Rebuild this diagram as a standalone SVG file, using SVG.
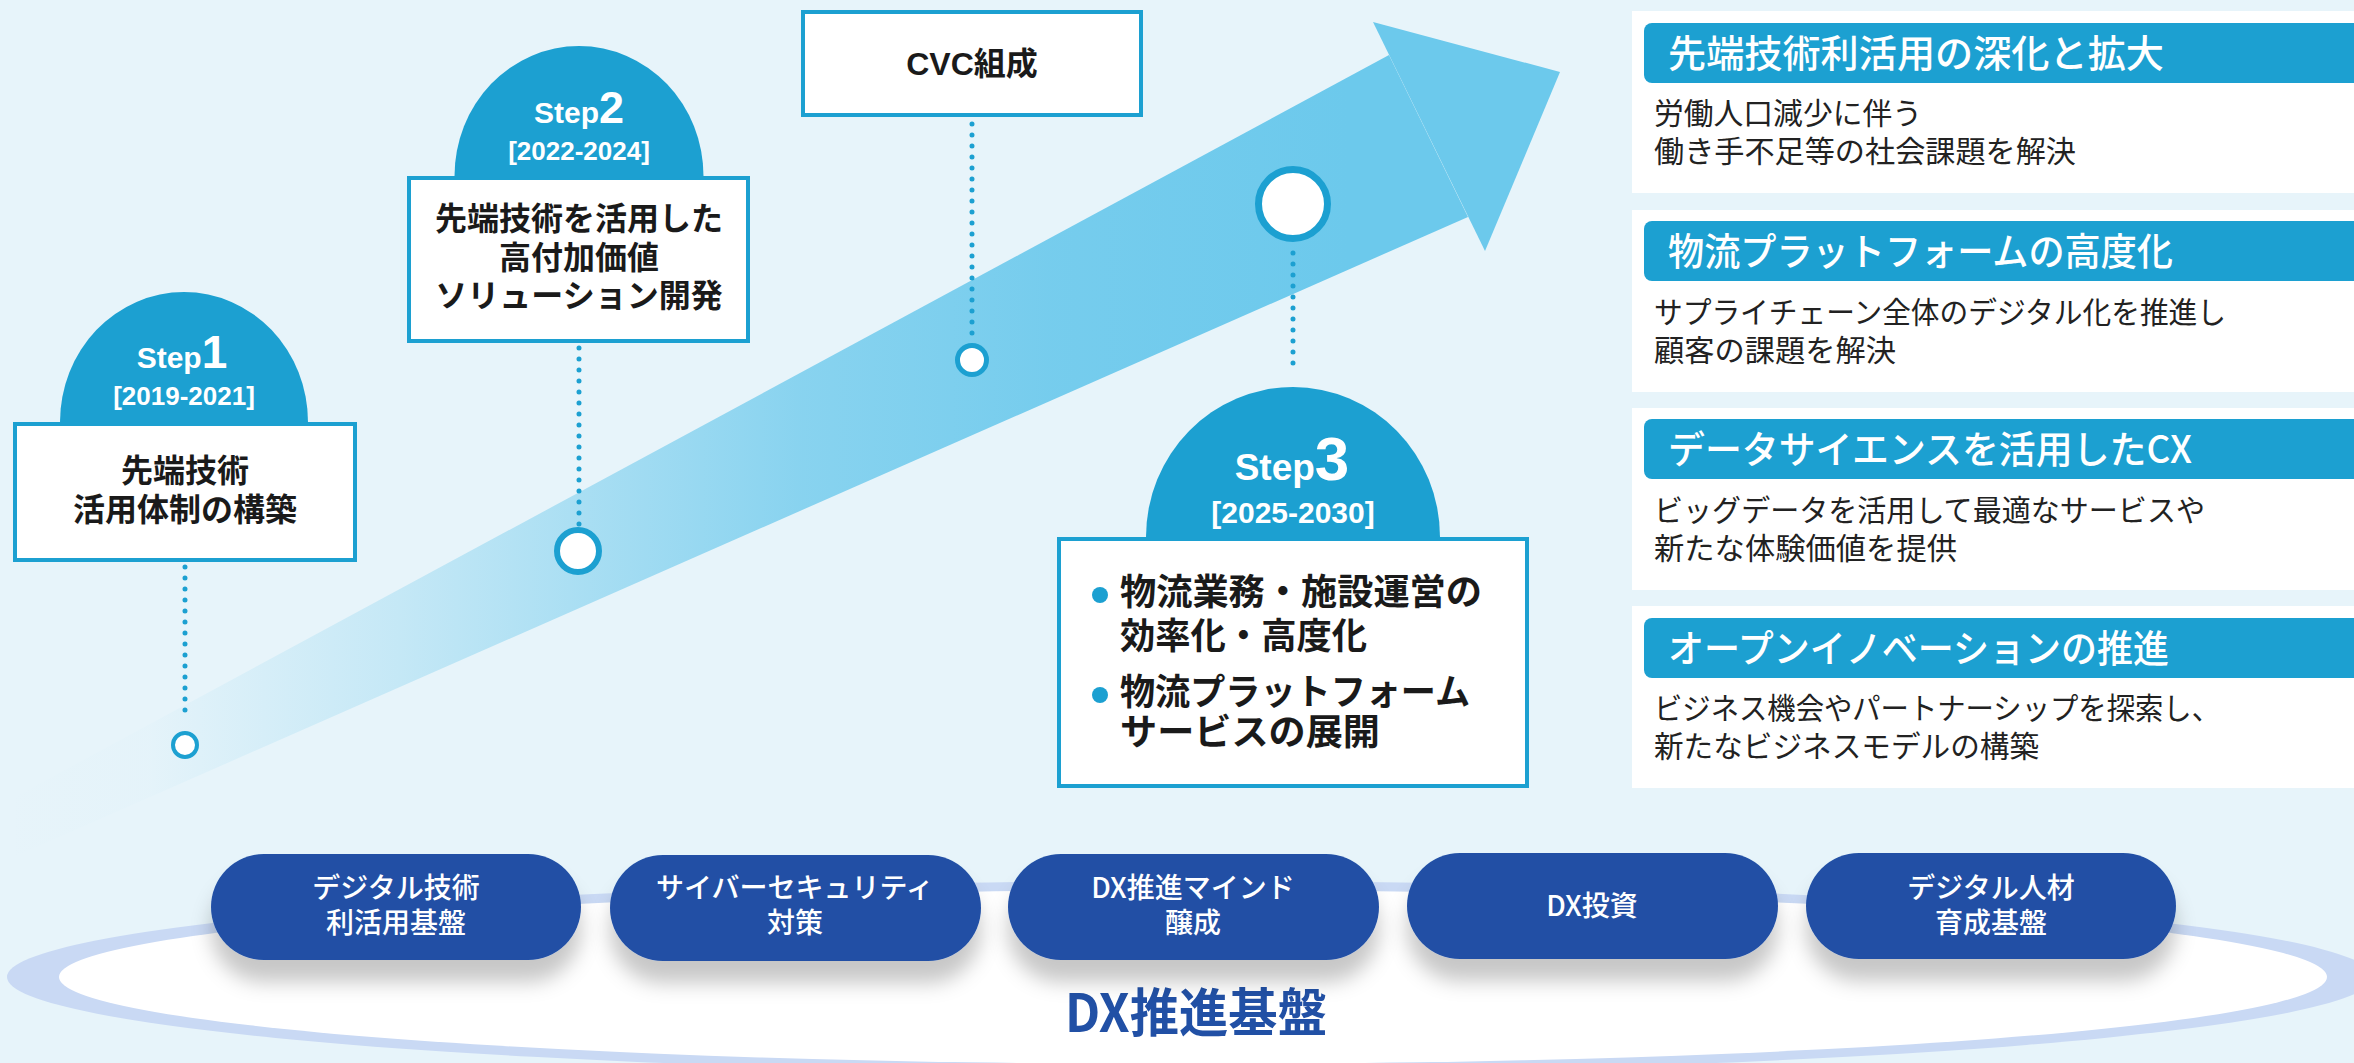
<svg xmlns="http://www.w3.org/2000/svg" width="2354" height="1063" viewBox="0 0 2354 1063">
<style>
.jp{font-family:"Noto Sans CJK JP","Noto Sans CJK SC",sans-serif}
.lat{font-family:"Liberation Sans","Noto Sans CJK JP",sans-serif;font-weight:700}
.boxtxt{font-family:"Noto Sans CJK JP",sans-serif;font-weight:700;font-size:32px;fill:#1a1a1a;text-anchor:middle}
.step{fill:#fff;text-anchor:middle}
.semi{fill:#1CA0D1}
.box{fill:#fff;stroke:#1CA0D1;stroke-width:4}
.dots{stroke:#1CA0D1;stroke-width:5;stroke-linecap:round;stroke-dasharray:0 11;fill:none}
.node{fill:#fff;stroke:#1CA0D1}
.panel{fill:#fff}
.hdr{fill:#1CA0D1}
.hdrtxt{font-family:"Noto Sans CJK JP",sans-serif;font-weight:500;font-size:38px;fill:#fff}
.body{font-family:"Noto Sans CJK JP",sans-serif;font-weight:400;font-size:30px;fill:#222}
.pill{fill:#2150A5}
.pilltxt{font-family:"Noto Sans CJK JP",sans-serif;font-weight:500;font-size:28px;fill:#fff;text-anchor:middle}
.bullet{font-family:"Noto Sans CJK JP",sans-serif;font-weight:700;font-size:36px;fill:#1a1a1a}
</style>
<defs>
<linearGradient id="shaft" gradientUnits="userSpaceOnUse" x1="0" y1="0" x2="1560" y2="0">
<stop offset="0" stop-color="#6CC9EC" stop-opacity="0"/>
<stop offset="0.096" stop-color="#6CC9EC" stop-opacity="0.02"/>
<stop offset="0.256" stop-color="#6CC9EC" stop-opacity="0.28"/>
<stop offset="0.513" stop-color="#6CC9EC" stop-opacity="0.77"/>
<stop offset="0.673" stop-color="#6CC9EC" stop-opacity="0.92"/>
<stop offset="0.865" stop-color="#6CC9EC" stop-opacity="1"/>
</linearGradient>
<filter id="shadow" x="-10%" y="-20%" width="120%" height="180%">
<feDropShadow dx="0" dy="22" stdDeviation="10" flood-color="#000" flood-opacity="0.22"/>
</filter>
</defs>
<rect width="2354" height="1063" fill="#E7F4FA"/>

<g id="arrow">
<polygon points="0,805 1389,55 1468,217 0,863" fill="url(#shaft)"/>
<polygon points="1373,22 1560,72 1485,251" fill="#6CC9EC"/>
</g>

<g id="base-ring">
<ellipse cx="1190" cy="977" rx="1183" ry="96" fill="#C9D9F4"/>
<ellipse cx="1193" cy="977" rx="1134" ry="87" fill="#fff"/>
<text x="1065" y="1032" class="jp" font-weight="700" font-size="52" fill="#2150A5" textLength="262" lengthAdjust="spacingAndGlyphs">DX推進基盤</text>
</g>

<g id="connectors">
<line class="dots" x1="185" y1="567" x2="185" y2="716"/>
<line class="dots" x1="579" y1="348" x2="579" y2="526"/>
<line class="dots" x1="972" y1="124" x2="972" y2="336"/>
<line class="dots" x1="1293" y1="253" x2="1293" y2="374"/>
</g>

<g id="node-step1">
<path class="semi" d="M60 422 A124 130 0 0 1 308 422 Z"/>
<text x="182" y="368" class="lat step"><tspan font-size="30">Step</tspan><tspan font-size="46">1</tspan></text>
<text x="184" y="405" class="lat step" font-size="26">[2019-2021]</text>
<rect class="box" x="15" y="424" width="340" height="136"/>
<text x="185" y="482" class="boxtxt">先端技術</text>
<text x="185" y="521" class="boxtxt">活用体制の構築</text>
<circle class="node" cx="185" cy="745" r="12" stroke-width="4"/>
</g>

<g id="node-step2">
<path class="semi" d="M454.5 176 A124.5 130 0 0 1 703.5 176 Z"/>
<text x="579" y="123" class="lat step"><tspan font-size="30">Step</tspan><tspan font-size="45">2</tspan></text>
<text x="579" y="160" class="lat step" font-size="26">[2022-2024]</text>
<rect class="box" x="409" y="178" width="339" height="163"/>
<text x="579" y="230" class="boxtxt">先端技術を活用した</text>
<text x="579" y="269" class="boxtxt">高付加価値</text>
<text x="579" y="307" class="boxtxt">ソリューション開発</text>
<circle class="node" cx="578" cy="551" r="21" stroke-width="6"/>
</g>

<g id="node-cvc">
<rect class="box" x="803" y="12" width="338" height="103"/>
<text x="972" y="75" class="lat" font-size="32" fill="#1a1a1a" text-anchor="middle">CVC組成</text>
<circle class="node" cx="972" cy="360" r="14.5" stroke-width="5"/>
</g>

<g id="node-step3">
<ellipse class="node" cx="1293" cy="204" rx="34.5" ry="34.5" stroke-width="7"/>
<path class="semi" d="M1146 537 A147 150 0 0 1 1440 537 Z"/>
<text x="1292" y="480" class="lat step"><tspan font-size="37">Step</tspan><tspan font-size="62">3</tspan></text>
<text x="1293" y="523" class="lat step" font-size="30">[2025-2030]</text>
<rect class="box" x="1059" y="539" width="468" height="247"/>
<circle cx="1100" cy="595" r="8" fill="#1CA0D1"/>
<text x="1120" y="605" class="bullet" textLength="362" lengthAdjust="spacingAndGlyphs">物流業務・施設運営の</text>
<text x="1120" y="649" class="bullet" textLength="247" lengthAdjust="spacingAndGlyphs">効率化・高度化</text>
<circle cx="1100" cy="695" r="8" fill="#1CA0D1"/>
<text x="1120" y="705" class="bullet" textLength="350" lengthAdjust="spacingAndGlyphs">物流プラットフォーム</text>
<text x="1120" y="745" class="bullet" textLength="260" lengthAdjust="spacingAndGlyphs">サービスの展開</text>
</g>

<g id="panel-1">
<rect class="panel" x="1632" y="11" width="760" height="182"/>
<rect class="hdr" x="1644" y="23" width="740" height="60" rx="8"/>
<text x="1668" y="67" class="hdrtxt" textLength="496" lengthAdjust="spacingAndGlyphs">先端技術利活用の深化と拡大</text>
<text x="1654" y="124" class="body" textLength="268" lengthAdjust="spacingAndGlyphs">労働人口減少に伴う</text>
<text x="1654" y="162" class="body" textLength="422" lengthAdjust="spacingAndGlyphs">働き手不足等の社会課題を解決</text>
</g>

<g id="panel-2">
<rect class="panel" x="1632" y="210" width="760" height="182"/>
<rect class="hdr" x="1644" y="221" width="740" height="60" rx="8"/>
<text x="1668" y="265" class="hdrtxt" textLength="505" lengthAdjust="spacingAndGlyphs">物流プラットフォームの高度化</text>
<text x="1654" y="323" class="body" textLength="572" lengthAdjust="spacingAndGlyphs">サプライチェーン全体のデジタル化を推進し</text>
<text x="1654" y="361" class="body" textLength="242" lengthAdjust="spacingAndGlyphs">顧客の課題を解決</text>
</g>

<g id="panel-3">
<rect class="panel" x="1632" y="408" width="760" height="182"/>
<rect class="hdr" x="1644" y="419" width="740" height="60" rx="8"/>
<text x="1668" y="463" class="hdrtxt" textLength="524" lengthAdjust="spacingAndGlyphs">データサイエンスを活用したCX</text>
<text x="1654" y="521" class="body" textLength="551" lengthAdjust="spacingAndGlyphs">ビッグデータを活用して最適なサービスや</text>
<text x="1654" y="559" class="body" textLength="303" lengthAdjust="spacingAndGlyphs">新たな体験価値を提供</text>
</g>

<g id="panel-4">
<rect class="panel" x="1632" y="606" width="760" height="182"/>
<rect class="hdr" x="1644" y="618" width="740" height="60" rx="8"/>
<text x="1668" y="662" class="hdrtxt" textLength="501" lengthAdjust="spacingAndGlyphs">オープンイノベーションの推進</text>
<text x="1654" y="719" class="body" textLength="566" lengthAdjust="spacingAndGlyphs">ビジネス機会やパートナーシップを探索し、</text>
<text x="1654" y="757" class="body" textLength="385" lengthAdjust="spacingAndGlyphs">新たなビジネスモデルの構築</text>
</g>

<g id="pill-1">
<rect class="pill" x="211" y="854" width="370" height="106" rx="53" filter="url(#shadow)"/>
<text x="396" y="898" class="pilltxt">デジタル技術</text>
<text x="396" y="933" class="pilltxt">利活用基盤</text>
</g>
<g id="pill-2">
<rect class="pill" x="610" y="855" width="371" height="106" rx="53" filter="url(#shadow)"/>
<text x="795" y="898" class="pilltxt">サイバーセキュリティ</text>
<text x="795" y="933" class="pilltxt">対策</text>
</g>
<g id="pill-3">
<rect class="pill" x="1008" y="854" width="371" height="106" rx="53" filter="url(#shadow)"/>
<text x="1193" y="898" class="pilltxt">DX推進マインド</text>
<text x="1193" y="933" class="pilltxt">醸成</text>
</g>
<g id="pill-4">
<rect class="pill" x="1407" y="853" width="371" height="106" rx="53" filter="url(#shadow)"/>
<text x="1592" y="916" class="pilltxt">DX投資</text>
</g>
<g id="pill-5">
<rect class="pill" x="1806" y="853" width="370" height="106" rx="53" filter="url(#shadow)"/>
<text x="1991" y="898" class="pilltxt">デジタル人材</text>
<text x="1991" y="933" class="pilltxt">育成基盤</text>
</g>
</svg>
